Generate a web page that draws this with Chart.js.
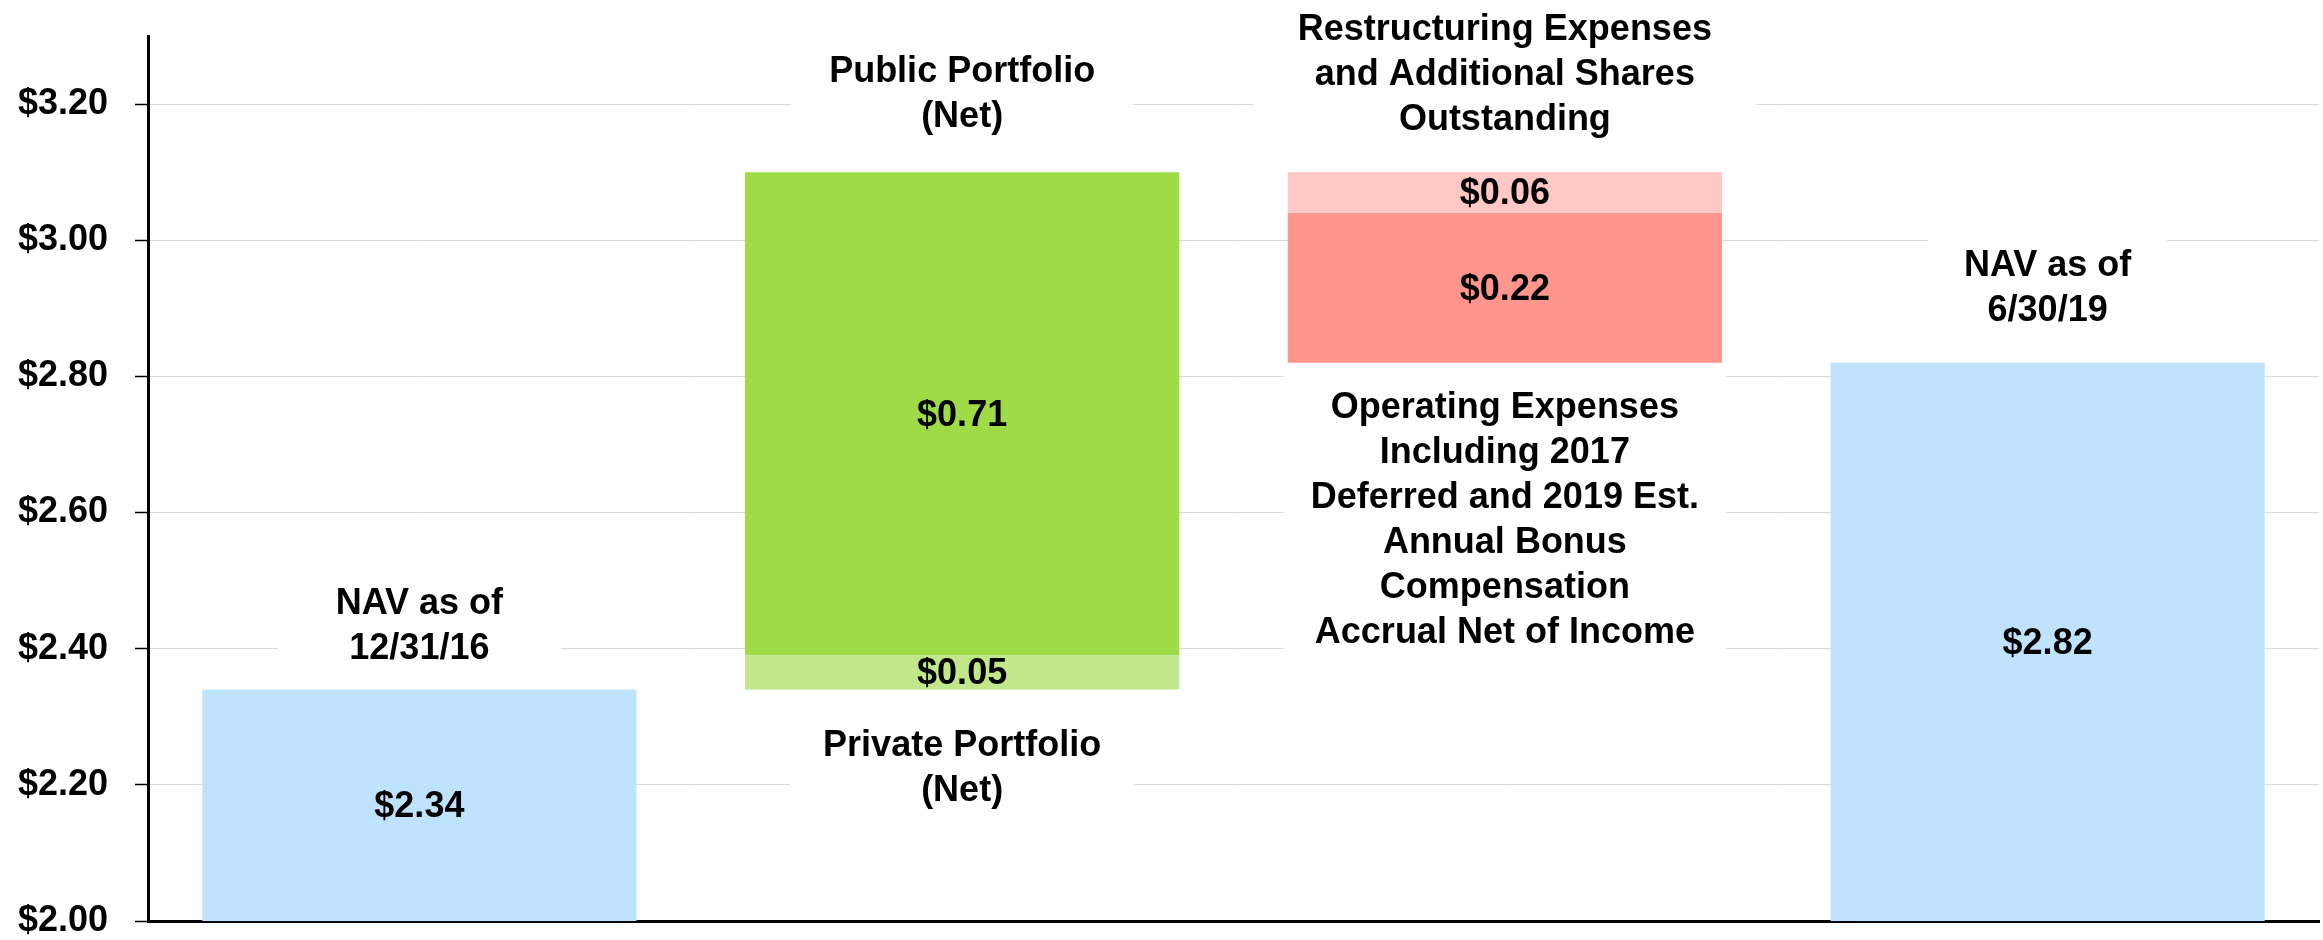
<!DOCTYPE html>
<html>
<head>
<meta charset="utf-8">
<script src="https://cdn.jsdelivr.net/npm/chart.js@4/dist/chart.umd.min.js"></script>
<style>
  html, body { margin: 0; padding: 0; background: #ffffff; }
  #wrap { width: 2323px; height: 940px; }
</style>
</head>
<body>
<div id="wrap"><canvas id="navChart" width="2323" height="940"></canvas></div>
<script>
// -----------------------------
// Data
// -----------------------------
const categories = ["NAV 12/31/16", "Portfolio (Net)", "Expenses", "NAV 6/30/19"];
const navValues = [2.34, null, null, 2.82];
const privateNet = [null, 0.05, null, null];
const publicNet = [null, 0.71, null, null];
const restructuringExp = [null, null, 0.06, null];
const operatingExp = [null, null, 0.22, null];
const yTicks = [2.00, 2.20, 2.40, 2.60, 2.80, 3.00, 3.20];
const yMin = 2.00;
const yMax = 3.30;

// text blocks around the columns
const noteLines = [
    ["NAV as of", "12/31/16"],
    ["Public Portfolio", "(Net)"],
    ["Private Portfolio", "(Net)"],
    ["Restructuring Expenses", "and Additional Shares", "Outstanding"],
    ["Operating Expenses", "Including 2017", "Deferred and 2019 Est.", "Annual Bonus", "Compensation", "Accrual Net of Income"],
    ["NAV as of", "6/30/19"]
];

// -----------------------------
// Waterfall ranges
// -----------------------------
const privateStart = navValues[0];
const privateEnd = privateStart + privateNet[1];
const publicEnd = privateEnd + publicNet[1];
const restructuringEnd = publicEnd - restructuringExp[2];
const operatingEnd = restructuringEnd - operatingExp[2];

const navData = navValues.map(v => v == null ? null : [yMin, v]);
const privateData = privateNet.map(v => v == null ? null : [privateStart, privateEnd]);
const publicData = publicNet.map(v => v == null ? null : [privateEnd, publicEnd]);
const restructuringData = restructuringExp.map(v => v == null ? null : [restructuringEnd, publicEnd]);
const operatingData = operatingExp.map(v => v == null ? null : [operatingEnd, restructuringEnd]);

const FONT = "'Liberation Sans', Arial, Helvetica, sans-serif";

// -----------------------------
// Labels plugin
// -----------------------------
const labelPlugin = {
    id: "waterfallLabels",
    afterDatasetsDraw(chart) {
        const ctx = chart.ctx;
        const y = chart.scales.y;
        const x = chart.scales.x;
        ctx.save();
        ctx.font = "bold 36px " + FONT;
        ctx.fillStyle = "#000";
        ctx.textAlign = "center";
        ctx.textBaseline = "middle";

        // value labels in the middle of each segment
        const sources = [navValues, privateNet, publicNet, restructuringExp, operatingExp];
        chart.data.datasets.forEach((ds, di) => {
            const meta = chart.getDatasetMeta(di);
            meta.data.forEach((el, i) => {
                const v = sources[di][i];
                if (v == null) return;
                ctx.fillText("$" + v.toFixed(2), el.x, (el.y + el.base) / 2 + 2);
            });
        });

        // notes above / below the columns, on white boxes over the grid
        const lineH = 45;
        const notes = [
            { lines: noteLines[0], idx: 0, at: navValues[0], side: "above", gap: 42, boxW: 283 },
            { lines: noteLines[1], idx: 1, at: publicEnd, side: "above", gap: 57, boxW: 342 },
            { lines: noteLines[2], idx: 1, at: privateStart, side: "below", gap: 55, boxW: 344 },
            { lines: noteLines[3], idx: 2, at: publicEnd, side: "above", gap: 54, boxW: 503 },
            { lines: noteLines[4], idx: 2, at: operatingEnd, side: "below", gap: 43, boxW: 443 },
            { lines: noteLines[5], idx: 3, at: navValues[3], side: "above", gap: 54, boxW: 239 }
        ];
        notes.forEach(n => {
            const cx = x.getPixelForValue(n.idx);
            const py = y.getPixelForValue(n.at);
            const count = n.lines.length;
            const first = n.side === "above" ? py - n.gap - (count - 1) * lineH : py + n.gap;
            const top = first - lineH / 2 - 12;
            const bottom = first + (count - 1) * lineH + lineH / 2 + 12;
            ctx.fillStyle = "#ffffff";
            ctx.fillRect(cx - n.boxW / 2, top, n.boxW, bottom - top);
            ctx.fillStyle = "#000";
            n.lines.forEach((t, k) => ctx.fillText(t, cx, first + k * lineH + 2));
        });
        ctx.restore();
    }
};

// -----------------------------
// Chart
// -----------------------------
const ctx = document.getElementById("navChart").getContext("2d");
new Chart(ctx, {
    type: "bar",
    data: {
        labels: categories,
        datasets: [
            { label: "NAV", data: navData, backgroundColor: "#bfe3fc" },
            { label: "Private Portfolio (Net)", data: privateData, backgroundColor: "#c2e78a" },
            { label: "Public Portfolio (Net)", data: publicData, backgroundColor: "#9edb47" },
            { label: "Restructuring Expenses", data: restructuringData, backgroundColor: "#ffc8c4" },
            { label: "Operating Expenses", data: operatingData, backgroundColor: "#ff968d" }
        ]
    },
    options: {
        responsive: false,
        animation: false,
        layout: { padding: { left: 17, right: 4, top: 36, bottom: 19 } },
        datasets: { bar: { categoryPercentage: 0.8, barPercentage: 1.0, borderWidth: 0 } },
        plugins: { legend: { display: false }, tooltip: { enabled: false } },
        scales: {
            x: {
                stacked: true,
                grid: { display: false, drawTicks: false },
                ticks: { display: false },
                border: { display: true, color: "#000", width: 3 },
                afterFit: s => { s.height = 0; s.paddingLeft = 0; s.paddingRight = 0; }
            },
            y: {
                min: yMin,
                max: yMax,
                afterBuildTicks: scale => { scale.ticks = yTicks.map(v => ({ value: v })); },
                afterFit: s => { s.width = 131; s.paddingTop = 0; s.paddingBottom = 0; },
                grid: { color: "#d9d9d9", lineWidth: 1, tickLength: 13, tickColor: "#000", tickWidth: 1.5 },
                border: { display: true, color: "#000", width: 3 },
                ticks: {
                    padding: 27,
                    color: "#000",
                    font: { family: FONT, size: 36, weight: "bold" },
                    callback: v => "$" + Number(v).toFixed(2)
                }
            }
        }
    },
    plugins: [labelPlugin]
});
</script>
</body>
</html>
